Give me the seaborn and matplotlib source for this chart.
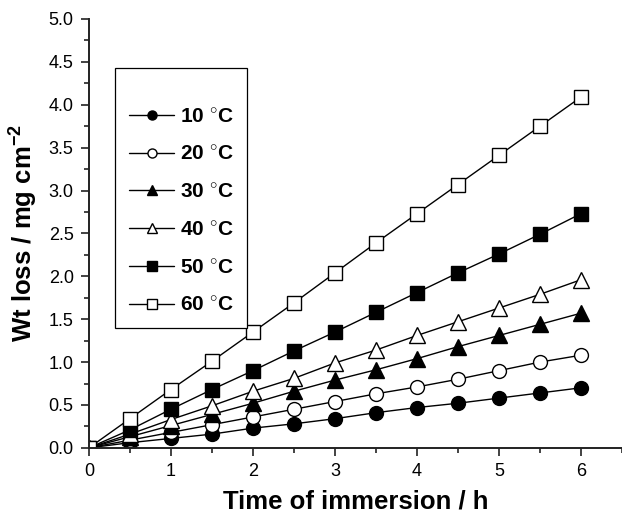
import matplotlib
matplotlib.use("Agg")
import matplotlib.pyplot as plt
import seaborn as sns
import numpy as np
import pandas as pd
from matplotlib.ticker import MultipleLocator

time_h = [0, 0.5, 1, 1.5, 2, 2.5, 3, 3.5, 4, 4.5, 5, 5.5, 6]
t10 = [0, 0.06, 0.11, 0.16, 0.23, 0.28, 0.34, 0.41, 0.47, 0.52, 0.58, 0.64, 0.70]
t20 = [0, 0.09, 0.18, 0.27, 0.36, 0.45, 0.54, 0.63, 0.71, 0.80, 0.90, 1.00, 1.08]
t30 = [0, 0.13, 0.26, 0.39, 0.52, 0.66, 0.79, 0.91, 1.04, 1.18, 1.31, 1.44, 1.57]
t40 = [0, 0.16, 0.33, 0.49, 0.66, 0.81, 0.99, 1.14, 1.31, 1.47, 1.63, 1.79, 1.96]
t50 = [0, 0.21, 0.45, 0.68, 0.90, 1.13, 1.35, 1.58, 1.81, 2.04, 2.26, 2.49, 2.73]
t60 = [0, 0.34, 0.68, 1.01, 1.35, 1.69, 2.04, 2.39, 2.73, 3.07, 3.41, 3.75, 4.09]
labels = ["10", "20", "30", "40", "50", "60"]
series = [t10, t20, t30, t40, t50, t60]
markers = ["o", "o", "^", "^", "s", "s"]
filled = [True, False, True, False, True, False]

sns.set_style("ticks")
plt.rcParams["font.family"] = ["Liberation Sans", "DejaVu Sans"]
plt.rcParams["mathtext.fontset"] = "custom"
plt.rcParams["mathtext.rm"] = "Liberation Sans:bold"
plt.rcParams["mathtext.bf"] = "Liberation Sans:bold"
plt.rcParams["mathtext.it"] = "Liberation Sans:bold"
plt.rcParams["text.color"] = "black"
plt.rcParams["axes.labelcolor"] = "black"
plt.rcParams["xtick.color"] = "black"
plt.rcParams["ytick.color"] = "black"

fig = plt.figure(figsize=(6.22, 5.13), dpi=100)
ax = fig.add_axes([0.143, 0.127, 0.857, 0.836])

msizes = {"o": 10, "s": 9.5, "^": 11}
for lab, vals, mk, fl in zip(labels, series, markers, filled):
    df = pd.DataFrame({"t": time_h, "w": vals})
    sns.lineplot(data=df, x="t", y="w", ax=ax, color="black", lw=1.0,
                 marker=mk, markersize=msizes[mk],
                 markerfacecolor="black" if fl else "white",
                 markeredgecolor="black", markeredgewidth=1.0,
                 label=lab + r" $^{\circ}$C", clip_on=True)

ax.set_xlim(0, 6.5)
ax.set_ylim(0, 5.0)
ax.xaxis.set_major_locator(MultipleLocator(1))
ax.xaxis.set_minor_locator(MultipleLocator(0.5))
ax.set_yticks(np.arange(0, 5.01, 0.5))
ax.set_yticklabels([f"{v:.1f}" for v in np.arange(0, 5.01, 0.5)])
ax.yaxis.set_minor_locator(MultipleLocator(0.25))
ax.tick_params(axis="both", which="major", length=6, width=1.2, labelsize=13, color="#222222",
               labelcolor="black", direction="out", pad=5)
ax.tick_params(axis="both", which="minor", length=3.5, width=1.2, color="#222222", direction="out")
for s in ["top", "right"]:
    ax.spines[s].set_visible(False)
for s in ["left", "bottom"]:
    ax.spines[s].set_linewidth(1.4)
    ax.spines[s].set_color("#222222")

ax.set_xlabel("Time of immersion / h", fontsize=18.5, fontweight="bold", labelpad=7, color="black")
ax.set_ylabel(r"Wt loss / mg cm$^{\mathbf{-2}}$", fontsize=18.5, fontweight="bold", labelpad=6,
              color="black")

leg = ax.legend(loc="upper left", bbox_to_anchor=(0.049, 0.886), frameon=True, fancybox=False,
                edgecolor="black", framealpha=1, borderpad=0.65, labelspacing=0.9,
                handlelength=2.2, handletextpad=0.25, borderaxespad=0,
                title=" ", title_fontsize=5,
                prop={"size": 15, "weight": "bold"})
leg.get_frame().set_linewidth(0.9)
for t in leg.get_texts():
    t.set_color("black")
for h in leg.legend_handles:
    h.set_markersize(6.5)

fig.savefig("out.png", dpi=100)
